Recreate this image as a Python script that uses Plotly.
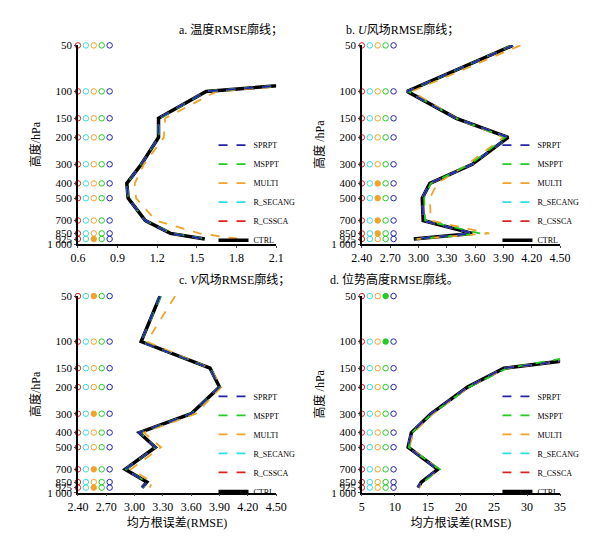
import plotly.graph_objects as go
import numpy as np

levels = [50, 100, 150, 200, 300, 400, 500, 700, 850, 925]
tick_levels = [50, 100, 150, 200, 300, 400, 500, 700, 850, 925, 1000]
tick_text = ["50", "100", "150", "200", "300", "400", "500", "700", "850", "925", "1 000"]

names = ["SPRPT", "MSPPT", "MULTI", "R_SECANG", "R_CSSCA", "CTRL"]
colors = {"SPRPT": "#2323a8", "MSPPT": "#22cc22", "MULTI": "#f0a428",
          "R_SECANG": "#33dddd", "R_CSSCA": "#dd2222", "CTRL": "#000000"}

# panel a: temperature (50 hPa value lies far off the axis; only the clipped segment shows)
t_ctrl = [6.0, 1.57, 1.21, 1.21, 1.08, 0.97, 0.98, 1.11, 1.30, 1.56]
t_multi = [6.0, 1.65, 1.26, 1.25, 1.10, 1.03, 1.04, 1.19, 1.52, 1.82]
t_msppt = [6.0, 1.57, 1.22, 1.21, 1.08, 0.97, 0.98, 1.11, 1.31, 1.57]
# panel b: U wind
u_ctrl = [4.00, 2.88, 3.40, 3.95, 3.57, 3.12, 3.04, 3.05, 3.57, 2.95]
u_multi = [4.08, 2.93, 3.40, 3.90, 3.52, 3.20, 3.12, 3.13, 3.75, 2.98]
u_msppt = [3.99, 2.89, 3.40, 3.92, 3.55, 3.13, 3.06, 3.07, 3.65, 2.97]
# panel c: V wind
v_ctrl = [3.27, 3.07, 3.80, 3.90, 3.60, 3.05, 3.22, 2.90, 3.13, 3.08]
v_multi = [3.43, 3.13, 3.80, 3.92, 3.65, 3.10, 3.28, 2.96, 3.19, 3.16]
v_msppt = [3.28, 3.07, 3.80, 3.90, 3.60, 3.06, 3.22, 2.91, 3.13, 3.09]
# panel d: geopotential height
z_ctrl = [120.0, 59.0, 26.5, 21.0, 15.5, 12.5, 12.0, 16.5, 14.0, 13.5]
z_multi = [120.0, 57.0, 26.8, 21.2, 15.8, 12.8, 12.2, 16.7, 14.2, 13.7]
z_msppt = [100.0, 50.0, 27.0, 21.2, 15.6, 12.6, 12.1, 16.8, 14.3, 13.8]

# significance dots: which member/level is filled
filled = {
    0: {"MULTI": [925]},
    1: {"MULTI": [400, 500, 700, 850]},
    2: {"MULTI": [50, 300, 700, 925]},
    3: {"MSPPT": [50, 100]},
}
dot_order = ["R_CSSCA", "R_SECANG", "MULTI", "MSPPT", "SPRPT"]

panels = [
    ("a. 温度RMSE廓线；", t_ctrl, t_msppt, t_multi, [0.6, 2.1], [0.6, 0.9, 1.2, 1.5, 1.8, 2.1], ".1f", "高度/hPa"),
    ("b. <i>U</i>风场RMSE廓线；", u_ctrl, u_msppt, u_multi, [2.4, 4.5], list(np.arange(2.4, 4.51, 0.3)), ".2f", "高度 /hPa"),
    ("c. <i>V</i>风场RMSE廓线；", v_ctrl, v_msppt, v_multi, [2.4, 4.5], list(np.arange(2.4, 4.51, 0.3)), ".2f", "高度/hPa"),
    ("d. 位势高度RMSE廓线。", z_ctrl, z_msppt, z_multi, [5, 35], [5, 10, 15, 20, 25, 30, 35], "d", "高度 /hPa"),
]

font = "Liberation Serif, Noto Sans CJK SC"
fig = go.Figure()
# page body adds ~8px offset, domains are shifted to compensate
xdom = [[0.115, 0.441], [0.582, 0.908], [0.115, 0.441], [0.582, 0.908]]
ydom = [[0.561, 0.931], [0.561, 0.931], [0.099, 0.465], [0.099, 0.465]]
leg_y = [0.772, 0.772, 0.305, 0.305]

for i, (title, ctrl, msppt, multi, xr, xt, fmt, ytitle) in enumerate(panels):
    k = "" if i == 0 else str(i + 1)
    xa, ya, lg = "x" + k, "y" + k, "legend" + k
    series = {"CTRL": ctrl, "R_CSSCA": ctrl, "R_SECANG": ctrl, "MULTI": multi, "MSPPT": msppt, "SPRPT": ctrl}
    for n in ["CTRL", "R_CSSCA", "R_SECANG", "MULTI", "MSPPT", "SPRPT"]:
        fig.add_trace(go.Scatter(
            x=series[n], y=levels, mode="lines", name=n, xaxis=xa, yaxis=ya, legend=lg,
            legendrank=names.index(n),
            line=dict(color=colors[n], width=3.5 if n == "CTRL" else 1.8,
                      dash="solid" if n == "CTRL" else "dash")))
    step = (xr[1] - xr[0]) * 0.04
    for j, n in enumerate(dot_order):
        fl = filled[i].get(n, [])
        sym = ["circle" if l in fl else "circle-open" for l in levels]
        fig.add_trace(go.Scatter(
            x=[xr[0] + j * step] * len(levels), y=levels, mode="markers", showlegend=False,
            xaxis=xa, yaxis=ya, cliponaxis=False,
            marker=dict(symbol=sym, size=5.5, color=colors[n], line=dict(width=1, color=colors[n]))))
    fig.update_layout({
        "xaxis" + k: dict(domain=xdom[i], anchor=ya, range=xr, tickvals=xt, tickformat=fmt,
                         showline=True, linecolor="black", linewidth=1.5, ticks="outside", ticklen=2,
                         showgrid=False, zeroline=False, tickfont=dict(size=12), automargin=False,
                         title=dict(text="均方根误差(RMSE)" if i >= 2 else "", font=dict(size=12), standoff=6)),
        "yaxis" + k: dict(domain=ydom[i], anchor=xa, type="log", automargin=False,
                         range=[np.log10(1000), np.log10(49.8)], tickvals=tick_levels, ticktext=tick_text,
                         showline=True, linecolor="black", linewidth=1.5, ticks="outside", ticklen=2,
                         showgrid=False, zeroline=False, tickfont=dict(size=11),
                         title=dict(text=ytitle, font=dict(size=12), standoff=4)),
        lg: dict(x=xdom[i][1] - 0.103, y=leg_y[i], xanchor="left", yanchor="top",
                 bgcolor="rgba(0,0,0,0)", font=dict(size=8, family=font), tracegroupgap=0,
                 itemwidth=30, itemclick=False),
    })
    fig.add_annotation(text=title, x=(xdom[i][0] + xdom[i][1]) / 2, y=ydom[i][1] + 0.012,
                       xref="paper", yref="paper", yanchor="bottom", showarrow=False,
                       font=dict(size=12, family=font))

fig.update_layout(width=608, height=538, margin=dict(l=0, r=0, t=0, b=0),
                  plot_bgcolor="white", paper_bgcolor="white",
                  font=dict(family=font, size=12, color="black"))
fig.write_html("out.html")
